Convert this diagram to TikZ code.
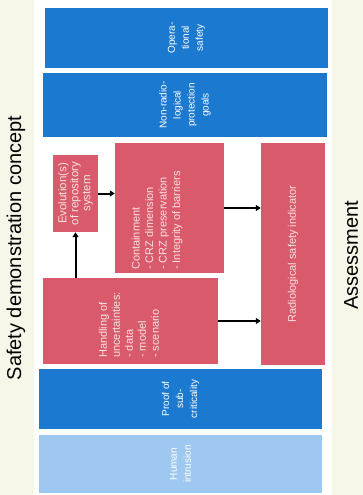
\documentclass[tikz,border=0pt]{standalone}
\usepackage{fontspec}
\setmainfont{Liberation Sans}
\usetikzlibrary{arrows.meta}
\definecolor{bgcream}{HTML}{F7F7E9}
\definecolor{boxblue}{HTML}{1B7AD0}
\definecolor{boxred}{HTML}{D95A6A}
\definecolor{boxlight}{HTML}{9FC8F0}
\definecolor{paletext}{HTML}{F8E2E4}
\begin{document}
\begin{tikzpicture}[x=1pt,y=-1pt,
  bluebox/.style={fill=boxblue,draw=none,inner sep=0pt},
  lightbox/.style={fill=boxlight,draw=none,inner sep=0pt},
  redbox/.style={fill=boxred,draw=none,inner sep=0pt},
  boxtext/.style={text=white,rotate=90,inner sep=0pt},
  bluetext/.style={boxtext,align=center,font=\fontsize{10}{14}\selectfont},
  redtext/.style={boxtext,text=paletext,font=\fontsize{11}{13.5}\selectfont},
  titletext/.style={rotate=90,inner sep=0pt,font=\fontsize{20}{24}\selectfont},
  conn/.style={draw=black,line width=2pt,-{Triangle[length=5pt,width=6pt]}}]
\useasboundingbox (0,0) rectangle (363,495);
\fill[bgcream] (0,0) rectangle (363,495);
\fill[white] (34,0) rectangle (332,495);
% boxes
\node[bluebox,minimum width=283pt,minimum height=60pt] (op) at (186.5,38) {};
\node[bluebox,minimum width=284pt,minimum height=64pt] (nr) at (185,105) {};
\node[redbox,minimum width=45pt,minimum height=77pt] (ev) at (75.5,193.5) {};
\node[redbox,minimum width=109pt,minimum height=130pt] (ct) at (169.5,208) {};
\node[redbox,minimum width=64pt,minimum height=222pt] (rd) at (293,254) {};
\node[redbox,minimum width=175pt,minimum height=86pt] (hd) at (130.5,321) {};
\node[bluebox,minimum width=283pt,minimum height=60pt] (pr) at (180.5,399) {};
\node[lightbox,minimum width=283pt,minimum height=58pt] (hi) at (180.5,464) {};
% texts
\node[bluetext] (opt) at (op) {Opera-\\tional\\safety};
\node[bluetext] (nrt) at (nr) {Non-radio-\\logical\\protection\\goals};
\node[bluetext] (prt) at (pr) {Proof of\\sub-\\criticality};
\node[bluetext] (hit) at (hi) {Human\\intrusion};
\node[redtext,align=center,font=\fontsize{11.5}{12}\selectfont] (evt) at (ev) {Evolution(s)\\of repository\\system};
\node[redtext,align=left,anchor=west] (ctt) at (157,270) {Containment\\- CRZ dimension\\- CRZ preservation\\- Integrity of barriers};
\node[redtext,align=left,anchor=west,font=\fontsize{11}{13}\selectfont] (hdt) at (129,358) {Handling of\\uncertainties:\\- data\\- model\\- scenario};
\node[redtext] (rdt) at (rd) {Radiological safety indicator};
% titles
\node[titletext] (t1) at (16,248) {Safety demonstration concept};
\node[titletext] (t2) at (351,255) {Assessment};
% connectors
\draw[conn] (ev.south |- hd.north) -- (ev.south);
\draw[conn] (ev.east) -- (ev.east -| ct.west);
\draw[conn] (ct.east) -- (ct.east -| rd.west);
\draw[conn] (hd.east) -- (hd.east -| rd.west);
\end{tikzpicture}
\end{document}
